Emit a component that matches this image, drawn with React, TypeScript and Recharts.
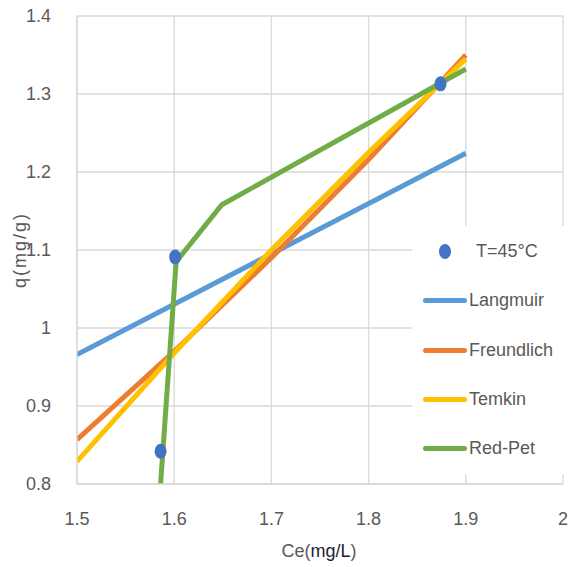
import React from 'react';
import { ComposedChart, Line, Scatter, XAxis, YAxis, CartesianGrid } from 'recharts';

const xTicks = [1.5, 1.6, 1.7, 1.8, 1.9, 2];
const yTicks = [0.8, 0.9, 1.0, 1.1, 1.2, 1.3, 1.4];

const observed = [
  { x: 1.586, y: 0.842 },
  { x: 1.601, y: 1.091 },
  { x: 1.874, y: 1.313 },
];
const langmuir = [
  { x: 1.5, y: 0.966 },
  { x: 1.9, y: 1.224 },
];
const freundlich = [
  { x: 1.5, y: 0.857 },
  { x: 1.6, y: 0.97 },
  { x: 1.7, y: 1.09 },
  { x: 1.8, y: 1.216 },
  { x: 1.9, y: 1.35 },
];
const temkin = [
  { x: 1.5, y: 0.829 },
  { x: 1.6, y: 0.968 },
  { x: 1.7, y: 1.1 },
  { x: 1.8, y: 1.225 },
  { x: 1.9, y: 1.345 },
];
const redPet = [
  { x: 1.586, y: 0.8 },
  { x: 1.602, y: 1.085 },
  { x: 1.649, y: 1.158 },
  { x: 1.9, y: 1.332 },
];

const legendItems = [
  { name: 'T=45°C', color: '#4472C4', dot: true },
  { name: 'Langmuir', color: '#5B9BD5' },
  { name: 'Freundlich', color: '#ED7D31' },
  { name: 'Temkin', color: '#FFC000' },
  { name: 'Red-Pet', color: '#70AD47' },
];

const FONT = '"Liberation Sans", Arial, sans-serif';
const TXT = '#595959';

const Ellipse = (props: any) => {
  const { cx, cy } = props;
  return <ellipse cx={cx} cy={cy} rx={6} ry={7.5} fill="#4472C4" />;
};

const LegendBox = () => (
  <div
    style={{
      position: 'absolute',
      left: 412,
      top: 226,
      width: 159,
      height: 248,
      background: '#fff',
      paddingTop: 1,
      boxSizing: 'border-box',
    }}
  >
    {legendItems.map((it) => (
      <div key={it.name} style={{ display: 'flex', alignItems: 'center', height: 49.3 }}>
        <div style={{ width: 56, display: 'flex', justifyContent: 'center', alignItems: 'center' }}>
          {it.dot ? (
            <div style={{ width: 12, height: 15, borderRadius: '50%', background: it.color, marginLeft: 10 }} />
          ) : (
            <div style={{ width: 44, height: 5, borderRadius: 3, background: it.color, marginLeft: 10 }} />
          )}
        </div>
        <span style={{ fontFamily: FONT, fontSize: 18, color: TXT, marginLeft: it.dot ? 8 : 1 }}>{it.name}</span>
      </div>
    ))}
  </div>
);

export default function App() {
  return (
    <div style={{ position: 'absolute', left: 0, top: 0, width: 571, height: 567, background: '#fff' }}>
      <ComposedChart width={571} height={567} margin={{ top: 16, right: 8, left: 27, bottom: 43 }}>
        <CartesianGrid stroke="#d9d9d9" strokeWidth={1.3} />
        <XAxis
          type="number"
          dataKey="x"
          domain={[1.5, 2]}
          ticks={xTicks}
          allowDataOverflow
          height={40}
          axisLine={{ stroke: '#d9d9d9', strokeWidth: 1.3 }}
          tickLine={false}
          tick={{ fill: TXT, fontSize: 18, fontFamily: FONT }}
          tickMargin={22}
          tickFormatter={(v: number) => String(v)}
        />
        <YAxis
          type="number"
          dataKey="y"
          domain={[0.8, 1.4]}
          ticks={yTicks}
          allowDataOverflow
          width={50}
          axisLine={{ stroke: '#d9d9d9', strokeWidth: 1.3 }}
          tickLine={false}
          tick={{ fill: TXT, fontSize: 18, fontFamily: FONT }}
          tickMargin={20}
          tickFormatter={(v: number) => String(Math.round(v * 10) / 10)}
        />
        <Line data={langmuir} dataKey="y" stroke="#5B9BD5" strokeWidth={5} dot={false} isAnimationActive={false} />
        <Line data={freundlich} dataKey="y" stroke="#ED7D31" strokeWidth={5} dot={false} isAnimationActive={false} />
        <Line data={temkin} dataKey="y" stroke="#FFC000" strokeWidth={5} dot={false} isAnimationActive={false} />
        <Line data={redPet} dataKey="y" stroke="#70AD47" strokeWidth={5} dot={false} isAnimationActive={false} />
        <Scatter data={observed} dataKey="y" shape={<Ellipse />} isAnimationActive={false} />
        <text x={319} y={557} textAnchor="middle" fontFamily={FONT} fontSize={18} fill={TXT}>
          Ce(<tspan fill="#1c1c3a">mg/L</tspan>)
        </text>
        <text
          x={26}
          y={250}
          textAnchor="middle"
          fontFamily={FONT}
          fontSize={18}
          letterSpacing={2}
          fill={TXT}
          transform="rotate(-90 26 250)"
        >
          q(mg/g)
        </text>
      </ComposedChart>
      <LegendBox />
    </div>
  );
}
